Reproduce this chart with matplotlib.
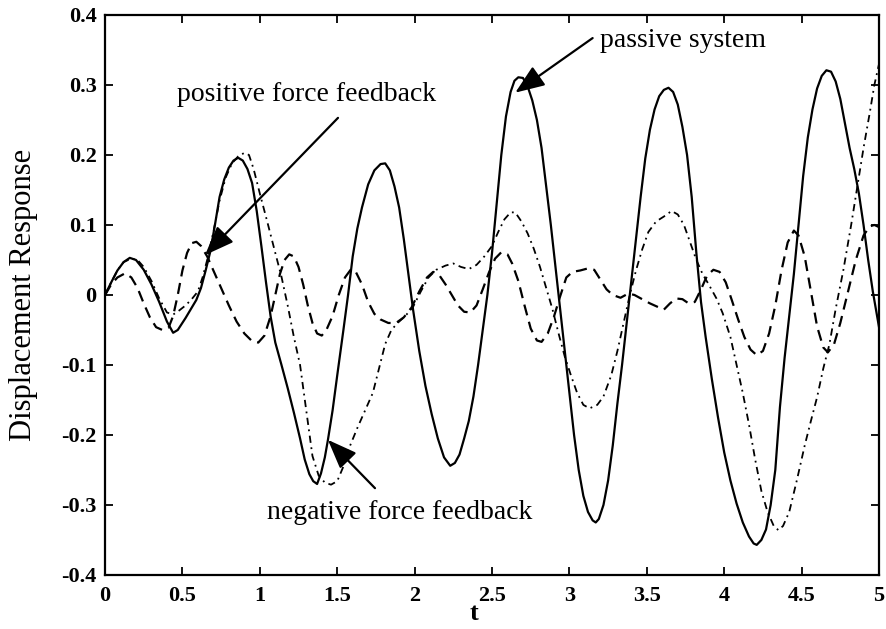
import matplotlib
matplotlib.use('Agg')
import matplotlib.pyplot as plt

# passive system (solid)
t_passive = [0, 0.04, 0.08, 0.12, 0.16, 0.2, 0.25, 0.3, 0.35, 0.4, 0.44, 0.47, 0.52, 0.56,
             0.59, 0.62, 0.65, 0.68, 0.71, 0.74, 0.77, 0.8, 0.83, 0.86, 0.89, 0.92, 0.95,
             0.98, 1.01, 1.04, 1.07, 1.1, 1.14, 1.18, 1.22, 1.26, 1.29, 1.32, 1.345, 1.37,
             1.395, 1.42, 1.44, 1.47, 1.5, 1.54, 1.57, 1.6, 1.63, 1.66, 1.7, 1.74, 1.78,
             1.81, 1.84, 1.87, 1.9, 1.93, 1.96, 1.99, 2.03, 2.07, 2.11, 2.15, 2.19, 2.23,
             2.26, 2.29, 2.32, 2.35, 2.38, 2.41, 2.44, 2.47, 2.5, 2.53, 2.56, 2.59, 2.62,
             2.645, 2.67, 2.7, 2.73, 2.76, 2.79, 2.82, 2.85, 2.88, 2.91, 2.94, 2.97, 3.0,
             3.03, 3.06, 3.09, 3.12, 3.15, 3.17, 3.19, 3.22, 3.25, 3.28, 3.31, 3.34, 3.37,
             3.4, 3.43, 3.46, 3.49, 3.52, 3.55, 3.58, 3.61, 3.64, 3.67, 3.7, 3.73, 3.76,
             3.79, 3.82, 3.85, 3.88, 3.92, 3.96, 4.0, 4.04, 4.08, 4.12, 4.16, 4.19, 4.21,
             4.24, 4.27, 4.3, 4.33, 4.36, 4.39, 4.42, 4.45, 4.48, 4.51, 4.54, 4.57, 4.6,
             4.63, 4.66, 4.69, 4.72, 4.75, 4.78, 4.81, 4.84, 4.87, 4.9, 4.93, 4.96, 5.0]
y_passive = [0, 0.018, 0.035, 0.047, 0.053, 0.05, 0.036, 0.015, -0.01, -0.038, -0.054, -0.05, -0.033, -0.018,
             -0.007, 0.01, 0.035, 0.062, 0.1, 0.14, 0.165, 0.182, 0.192, 0.196, 0.192, 0.18, 0.16,
             0.12, 0.07, 0.018, -0.031, -0.068, -0.1, -0.133, -0.168, -0.205, -0.235, -0.256, -0.266, -0.27,
             -0.255, -0.232, -0.207, -0.165, -0.115, -0.05, 0.0, 0.055, 0.095, 0.125, 0.158, 0.178, 0.187,
             0.188, 0.178, 0.155, 0.125, 0.08, 0.03, -0.021, -0.08, -0.13, -0.17, -0.205, -0.232, -0.244,
             -0.24, -0.228, -0.205, -0.18, -0.145, -0.1, -0.05, 0.0, 0.06, 0.13, 0.2, 0.255, 0.29,
             0.306, 0.311, 0.31, 0.298, 0.278, 0.25, 0.21, 0.155, 0.1, 0.04, -0.02, -0.08, -0.14,
             -0.2, -0.25, -0.287, -0.31, -0.322, -0.325, -0.32, -0.3, -0.265, -0.215, -0.155, -0.1, -0.04,
             0.02, 0.08, 0.14, 0.195, 0.236, 0.265, 0.284, 0.293, 0.296, 0.29, 0.272, 0.24, 0.2,
             0.14, 0.06, -0.01, -0.06, -0.12, -0.175, -0.225, -0.265, -0.298, -0.325, -0.345, -0.355, -0.357,
             -0.35, -0.335, -0.3, -0.25, -0.16, -0.09, -0.03, 0.03, 0.1, 0.17, 0.225, 0.265, 0.295,
             0.313, 0.321, 0.319, 0.305, 0.28, 0.245, 0.21, 0.18, 0.145, 0.1, 0.05, 0.005, -0.046]

# negative force feedback (dash-dot)
t_negative = [0, 0.04, 0.08, 0.12, 0.17, 0.21, 0.25, 0.3, 0.35, 0.4, 0.44, 0.48, 0.52, 0.56,
              0.6, 0.63, 0.66, 0.7, 0.74, 0.78, 0.82, 0.86, 0.9, 0.93, 0.96, 1.0, 1.05, 1.1,
              1.14, 1.18, 1.22, 1.26, 1.3, 1.34, 1.38, 1.42, 1.46, 1.5, 1.54, 1.58, 1.63, 1.68,
              1.73, 1.77, 1.81, 1.85, 1.89, 1.94, 1.99, 2.04, 2.09, 2.14, 2.2, 2.25, 2.3, 2.35,
              2.4, 2.45, 2.5, 2.54, 2.58, 2.62, 2.65, 2.69, 2.73, 2.77, 2.81, 2.85, 2.89, 2.93,
              2.97, 3.01, 3.05, 3.09, 3.13, 3.18, 3.22, 3.27, 3.31, 3.35, 3.39, 3.43, 3.47, 3.51,
              3.56, 3.61, 3.66, 3.7, 3.74, 3.78, 3.82, 3.86, 3.9, 3.95, 3.99, 4.04, 4.08, 4.12,
              4.16, 4.2, 4.24, 4.28, 4.32, 4.35, 4.38, 4.42, 4.47, 4.52, 4.56, 4.6, 4.64, 4.68,
              4.72, 4.77, 4.82, 4.86, 4.9, 4.94, 4.97, 5.0]
y_negative = [0, 0.018, 0.035, 0.047, 0.052, 0.05, 0.04, 0.02, -0.005, -0.025, -0.028, -0.022, -0.015, -0.006,
              0.005, 0.025, 0.05, 0.09, 0.135, 0.168, 0.188, 0.198, 0.203, 0.2, 0.18, 0.145, 0.103, 0.06,
              0.026, -0.015, -0.06, -0.1, -0.165, -0.23, -0.258, -0.268, -0.271, -0.266, -0.245, -0.217, -0.19, -0.165,
              -0.14, -0.105, -0.07, -0.05, -0.04, -0.03, -0.017, 0.005, 0.025, 0.036, 0.042, 0.045, 0.04, 0.037,
              0.043, 0.055, 0.07, 0.09, 0.108, 0.118, 0.118, 0.105, 0.088, 0.066, 0.04, 0.01, -0.02, -0.055,
              -0.088, -0.115, -0.14, -0.157, -0.162, -0.157, -0.145, -0.115, -0.08, -0.04, 0.0, 0.035, 0.065, 0.09,
              0.105, 0.112, 0.12, 0.115, 0.1, 0.075, 0.05, 0.03, 0.015, -0.005, -0.026, -0.06, -0.1, -0.14,
              -0.185, -0.235, -0.28, -0.31, -0.33, -0.336, -0.33, -0.31, -0.264, -0.215, -0.18, -0.146, -0.105, -0.07,
              -0.02, 0.036, 0.1, 0.155, 0.21, 0.26, 0.3, 0.33]

# positive force feedback (dashed)
t_positive = [0, 0.04, 0.08, 0.13, 0.17, 0.21, 0.25, 0.29, 0.33, 0.37, 0.41, 0.44, 0.47, 0.5,
              0.53, 0.56, 0.59, 0.62, 0.66, 0.7, 0.75, 0.8, 0.85, 0.9, 0.95, 0.99, 1.03, 1.07,
              1.1, 1.13, 1.16, 1.19, 1.22, 1.25, 1.28, 1.31, 1.34, 1.37, 1.4, 1.43, 1.47, 1.51,
              1.55, 1.59, 1.62, 1.66, 1.7, 1.74, 1.78, 1.83, 1.88, 1.93, 1.98, 2.03, 2.08, 2.12,
              2.16, 2.2, 2.24, 2.28, 2.32, 2.36, 2.4, 2.44, 2.48, 2.52, 2.56, 2.6, 2.63, 2.67,
              2.71, 2.75, 2.79, 2.82, 2.86, 2.9, 2.94, 2.98, 3.02, 3.07, 3.12, 3.16, 3.2, 3.24,
              3.28, 3.33, 3.38, 3.42, 3.47, 3.52, 3.57, 3.61, 3.65, 3.69, 3.73, 3.77, 3.81, 3.85,
              3.89, 3.93, 3.97, 4.01, 4.05, 4.09, 4.13, 4.17, 4.21, 4.25, 4.29, 4.33, 4.37, 4.41,
              4.45, 4.48, 4.52, 4.56, 4.6, 4.64, 4.67, 4.71, 4.75, 4.8, 4.85, 4.9, 4.94, 4.97, 5.0]
y_positive = [0, 0.015, 0.025, 0.031, 0.025, 0.01, -0.012, -0.032, -0.046, -0.05, -0.047, -0.03, 0.0, 0.035,
              0.06, 0.074, 0.076, 0.07, 0.055, 0.035, 0.01, -0.015, -0.038, -0.055, -0.066, -0.068, -0.058, -0.03,
              0.0, 0.03, 0.05, 0.058, 0.055, 0.04, 0.015, -0.015, -0.04, -0.055, -0.058, -0.05, -0.03, 0.0,
              0.025, 0.037, 0.033, 0.015, -0.01, -0.027, -0.035, -0.04, -0.04, -0.032, -0.018, 0.005, 0.025, 0.033,
              0.028, 0.015, 0.0, -0.015, -0.024, -0.025, -0.015, 0.008, 0.032, 0.052, 0.061, 0.058, 0.045, 0.02,
              -0.015, -0.048, -0.065, -0.067, -0.055, -0.031, -0.002, 0.025, 0.033, 0.035, 0.038, 0.036, 0.022, 0.008,
              0.0, -0.004, 0.002, 0.0, -0.006, -0.012, -0.017, -0.021, -0.012, -0.005, -0.006, -0.012, -0.01, 0.008,
              0.028, 0.036, 0.033, 0.018, -0.008, -0.035, -0.06, -0.078, -0.086, -0.08, -0.055, -0.015, 0.035, 0.075,
              0.092, 0.085, 0.055, 0.005, -0.045, -0.075, -0.082, -0.07, -0.04, 0.005, 0.05, 0.085, 0.098, 0.1, 0.097]

x_ticks = [0, 0.5, 1, 1.5, 2, 2.5, 3, 3.5, 4, 4.5, 5]
x_tick_labels = ['0', '0.5', '1', '1.5', '2', '2.5', '3', '3.5', '4', '4.5', '5']
y_ticks = [-0.4, -0.3, -0.2, -0.1, 0, 0.1, 0.2, 0.3, 0.4]
y_tick_labels = ['-0.4', '-0.3', '-0.2', '-0.1', '0', '0.1', '0.2', '0.3', '0.4']

plt.rcParams['font.family'] = ['Liberation Serif', 'DejaVu Serif']
plt.rcParams['axes.unicode_minus'] = False

fig = plt.figure(figsize=(8.87, 6.29), dpi=100)
ax = fig.add_axes([0.1184, 0.0859, 0.8726, 0.8903])

ax.plot(t_passive, y_passive, color='black', lw=1.6, ls='-')
ax.plot(t_negative, y_negative, color='black', lw=1.3, ls=(0, (4, 2.5, 1, 2.5)))
ax.plot(t_positive, y_positive, color='black', lw=1.6, ls=(0, (5, 3)))

ax.set_xlim(0, 5)
ax.set_ylim(-0.4, 0.4)
ax.set_xticks(x_ticks)
ax.set_xticklabels(x_tick_labels, fontsize=16, fontweight='bold')
ax.set_yticks(y_ticks)
ax.set_yticklabels(y_tick_labels, fontsize=16, fontweight='bold')
ax.tick_params(direction='in', length=6, width=1.3, top=True, right=True, pad=6)
ax.tick_params(axis='x', pad=8)
for s in ax.spines.values():
    s.set_linewidth(1.6)

ax.set_xlabel('t', fontsize=19, fontweight='bold')
ax.xaxis.set_label_coords(0.477, -0.048)
ax.set_ylabel('Displacement Response', fontsize=22)
ax.yaxis.set_label_coords(-0.087, 0.5)

arrow = dict(arrowstyle='-|>,head_length=0.9,head_width=0.35', mutation_scale=20,
             lw=1.6, color='black', shrinkA=0, shrinkB=0)
ax.annotate('', xy=(2.65, 0.289), xytext=(3.15, 0.367), arrowprops=arrow)
ax.text(3.2, 0.363, 'passive system', fontsize=20, va='center', ha='left')
ax.annotate('', xy=(0.646, 0.057), xytext=(1.505, 0.253), arrowprops=arrow)
ax.text(0.465, 0.286, 'positive force feedback', fontsize=20, va='center', ha='left')
ax.annotate('', xy=(1.44, -0.207), xytext=(1.744, -0.276), arrowprops=arrow)
ax.text(1.046, -0.311, 'negative force feedback', fontsize=20, va='center', ha='left')

fig.savefig('out.png', dpi=100)
